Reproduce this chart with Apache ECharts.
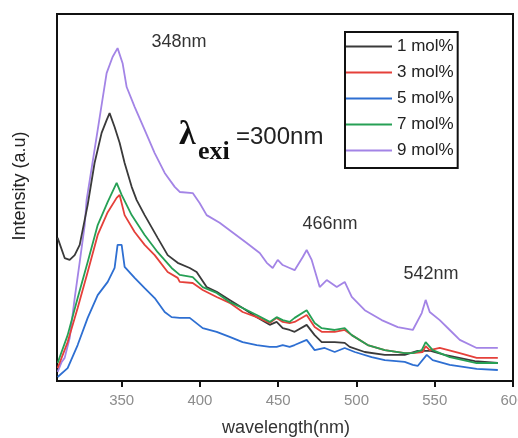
<!DOCTYPE html>
<html>
<head>
<meta charset="utf-8">
<script src="https://cdn.jsdelivr.net/npm/echarts@6/dist/echarts.min.js"></script>
<style>
html,body{margin:0;padding:0;background:#fff;}
#chart{width:518px;height:438px;}
</style>
</head>
<body>
<div id="chart"></div>
<script>
// Series names
const seriesNames = ['1 mol%', '3 mol%', '5 mol%', '7 mol%', '9 mol%'];
// X tick labels (nm)
const xTicks = [350, 400, 450, 500, 550, 600];
// Peak annotations
const peakLabels = ['348nm', '466nm', '542nm'];

// [wavelength nm, intensity a.u.]
const mol1 = [[309.1,39.0],[313.6,33.5],[316.8,33.0],[320.0,34.3],[323.2,37.1],[328.3,48.0],[332.7,59.4],[337.2,67.6],[340.4,71.1],[342.3,73.0],[345.5,69.2],[348.7,64.9],[351.9,59.4],[356.4,52.9],[359.6,49.3],[364.7,45.2],[373.0,39.0],[379.4,34.3],[385.8,32.2],[393.5,30.8],[397.9,29.7],[404.3,25.6],[410.7,24.3],[419.0,22.1],[427.3,19.9],[436.3,17.4],[444.6,15.3],[449.0,16.1],[452.9,14.4],[457.3,13.9],[460.5,13.4],[468.2,15.3],[473.3,12.5],[477.8,10.6],[486.1,10.6],[492.5,10.4],[495.7,9.3],[505.3,7.9],[518.1,7.1],[530.8,7.1],[539.1,8.2],[547.4,8.2],[556.4,7.1],[575.6,5.4],[590.3,4.9]];
const mol3 = [[309.1,3.5],[315.5,10.6],[321.9,19.9],[328.3,29.7],[334.7,39.8],[341.1,46.0],[346.8,49.9],[348.7,50.7],[351.9,45.2],[358.3,40.6],[364.7,37.1],[371.1,34.3],[379.4,29.7],[385.8,28.1],[387.1,27.0],[395.4,26.7],[401.8,24.8],[410.7,22.9],[419.0,21.3],[427.3,18.8],[436.3,17.4],[444.6,15.8],[449.0,17.2],[452.9,16.1],[457.3,15.8],[460.5,16.1],[468.2,18.0],[473.3,14.7],[477.8,13.4],[486.1,13.4],[492.5,13.9],[497.0,12.5],[507.2,9.8],[518.1,8.4],[530.8,7.6],[536.0,7.6],[542.3,7.9],[544.2,9.5],[546.8,8.4],[553.2,9.0],[566.0,7.6],[576.8,6.3],[590.3,6.3]];
const mol5 = [[309.1,1.1],[315.5,3.5],[321.9,9.8],[328.3,17.2],[334.7,23.4],[341.1,27.0],[345.5,30.8],[347.4,37.1],[350.0,37.1],[351.9,31.1],[358.3,28.1],[364.7,25.3],[371.1,22.6],[377.5,18.8],[381.9,17.4],[387.1,17.2],[393.5,17.2],[401.8,14.4],[410.7,13.4],[419.0,12.0],[427.3,10.6],[436.3,9.8],[444.6,9.3],[449.0,9.3],[452.9,9.8],[457.3,9.3],[460.5,9.8],[468.2,11.2],[473.3,8.4],[479.7,9.0],[486.1,7.9],[492.5,9.0],[498.9,7.9],[509.7,6.5],[518.1,5.7],[530.8,5.2],[536.0,4.4],[539.1,4.1],[544.9,7.1],[548.7,5.7],[559.6,4.4],[576.8,3.3],[590.3,3.0]];
const mol7 = [[309.1,4.9],[315.5,12.5],[321.9,22.6],[328.3,32.4],[334.7,42.5],[341.1,48.8],[346.8,54.0],[350.0,50.7],[356.4,45.2],[364.7,39.8],[373.0,35.1],[381.9,30.8],[385.8,29.4],[387.1,28.9],[395.4,28.3],[401.8,25.6],[410.7,24.0],[419.0,21.5],[427.3,19.9],[436.3,18.0],[444.6,16.1],[449.0,17.4],[452.9,16.6],[457.3,16.1],[460.5,17.2],[468.2,19.3],[473.3,15.8],[477.8,14.4],[486.1,13.9],[492.5,14.4],[497.0,12.5],[507.2,9.8],[518.1,8.4],[530.8,7.6],[536.0,7.6],[541.7,8.4],[544.2,10.6],[548.7,8.4],[559.6,6.5],[576.8,4.9],[590.3,4.9]];
const mol9 = [[309.1,2.5],[311.7,5.2],[313.6,6.3],[316.8,11.7],[320.0,22.6],[323.2,32.4],[326.4,42.5],[327.6,49.3],[334.7,68.4],[340.4,83.9],[344.2,88.3],[347.4,90.7],[350.6,86.6],[353.2,80.1],[358.3,74.7],[364.7,68.4],[371.1,62.1],[377.5,56.7],[383.9,52.9],[387.1,51.5],[395.4,51.2],[399.8,48.5],[404.3,45.2],[412.6,43.1],[419.0,41.1],[429.9,37.6],[438.2,34.9],[442.7,32.2],[446.5,30.8],[449.7,33.0],[452.9,31.6],[457.3,30.8],[460.5,30.2],[465.7,33.8],[468.2,35.7],[471.4,33.0],[476.5,25.6],[481.0,27.5],[487.4,25.6],[492.5,27.0],[497.0,22.9],[505.3,19.3],[516.1,16.6],[526.4,14.7],[536.0,13.9],[541.7,18.5],[544.2,22.1],[546.8,18.8],[553.2,16.6],[559.6,13.9],[566.0,11.2],[576.8,9.0],[590.3,9.0]];

const seriesData = [mol1, mol3, mol5, mol7, mol9];
const colors = ['#3a3a3a', '#e5403a', '#2e6fd2', '#26a055', '#a384e6'];

const chart = echarts.init(document.getElementById('chart'), null, {renderer: 'canvas'});
const sans = 'Liberation Sans, Arial, sans-serif';
const serif = 'Liberation Serif, Times New Roman, serif';

chart.setOption({
  animation: false,
  backgroundColor: '#fff',
  color: colors,
  grid: {
    left: 57, right: 5, top: 14, bottom: 57,
    containLabel: false, outerBoundsMode: 'none',
    show: true, borderColor: '#111', borderWidth: 2, backgroundColor: 'transparent'
  },
  legend: {
    show: true,
    data: seriesNames,
    orient: 'vertical',
    left: 345, top: 32,
    itemWidth: 46, itemHeight: 14, itemGap: 9,
    padding: [6, 4, 9, 0],
    borderColor: '#111', borderWidth: 2,
    backgroundColor: '#fff',
    itemStyle: {opacity: 0, borderWidth: 0},
    lineStyle: {width: 2, opacity: 1},
    textStyle: {fontFamily: sans, fontSize: 17, color: '#222'}
  },
  xAxis: {
    type: 'value', min: 308.7, max: 600,
    axisLine: {show: true, lineStyle: {color: '#111', width: 2}},
    axisTick: {show: true, customValues: xTicks, length: 6, inside: false, lineStyle: {color: '#111', width: 2}},
    axisLabel: {show: true, customValues: xTicks, color: '#8c8c8c', fontFamily: sans, fontSize: 15, margin: 12},
    splitLine: {show: false}
  },
  yAxis: {
    type: 'value', min: 0, max: 100,
    axisLine: {show: true, lineStyle: {color: '#111', width: 2}},
    axisTick: {show: false}, axisLabel: {show: false}, splitLine: {show: false}
  },
  graphic: [
    {type: 'text', style: {text: 'wavelength(nm)', fontFamily: sans, fontSize: 18, fill: '#333', x: 286, y: 428, align: 'center', verticalAlign: 'middle'}},
    {type: 'text', x: 20, y: 186, rotation: Math.PI / 2, style: {text: 'Intensity (a.u)', fontFamily: sans, fontSize: 18, fill: '#222', align: 'center', verticalAlign: 'middle'}},
    {type: 'text', style: {text: peakLabels[0], x: 179, y: 42, fontFamily: sans, fontSize: 18, fill: '#333', align: 'center', verticalAlign: 'middle'}},
    {type: 'text', style: {text: peakLabels[1], x: 330, y: 224, fontFamily: sans, fontSize: 18, fill: '#333', align: 'center', verticalAlign: 'middle'}},
    {type: 'text', style: {text: peakLabels[2], x: 431, y: 274, fontFamily: sans, fontSize: 18, fill: '#333', align: 'center', verticalAlign: 'middle'}},
    {type: 'text', style: {text: 'λ', x: 179, y: 135, fontFamily: serif, fontWeight: 'bold', fontSize: 34, fill: '#111', align: 'left', verticalAlign: 'middle'}},
    {type: 'text', style: {text: 'exi', x: 198, y: 152, fontFamily: serif, fontWeight: 'bold', fontSize: 26, fill: '#111', align: 'left', verticalAlign: 'middle'}},
    {type: 'text', style: {text: '=300nm', x: 236, y: 137, fontFamily: sans, fontSize: 24, fill: '#222', align: 'left', verticalAlign: 'middle'}}
  ],
  series: seriesData.map((d, i) => ({
    name: seriesNames[i],
    type: 'line',
    data: d,
    symbol: 'none',
    showSymbol: false,
    lineStyle: {width: 1.8, color: colors[i]},
    itemStyle: {color: colors[i]},
    z: i === 4 ? 1 : 2,
    clip: true
  }))
});
</script>
</body>
</html>
